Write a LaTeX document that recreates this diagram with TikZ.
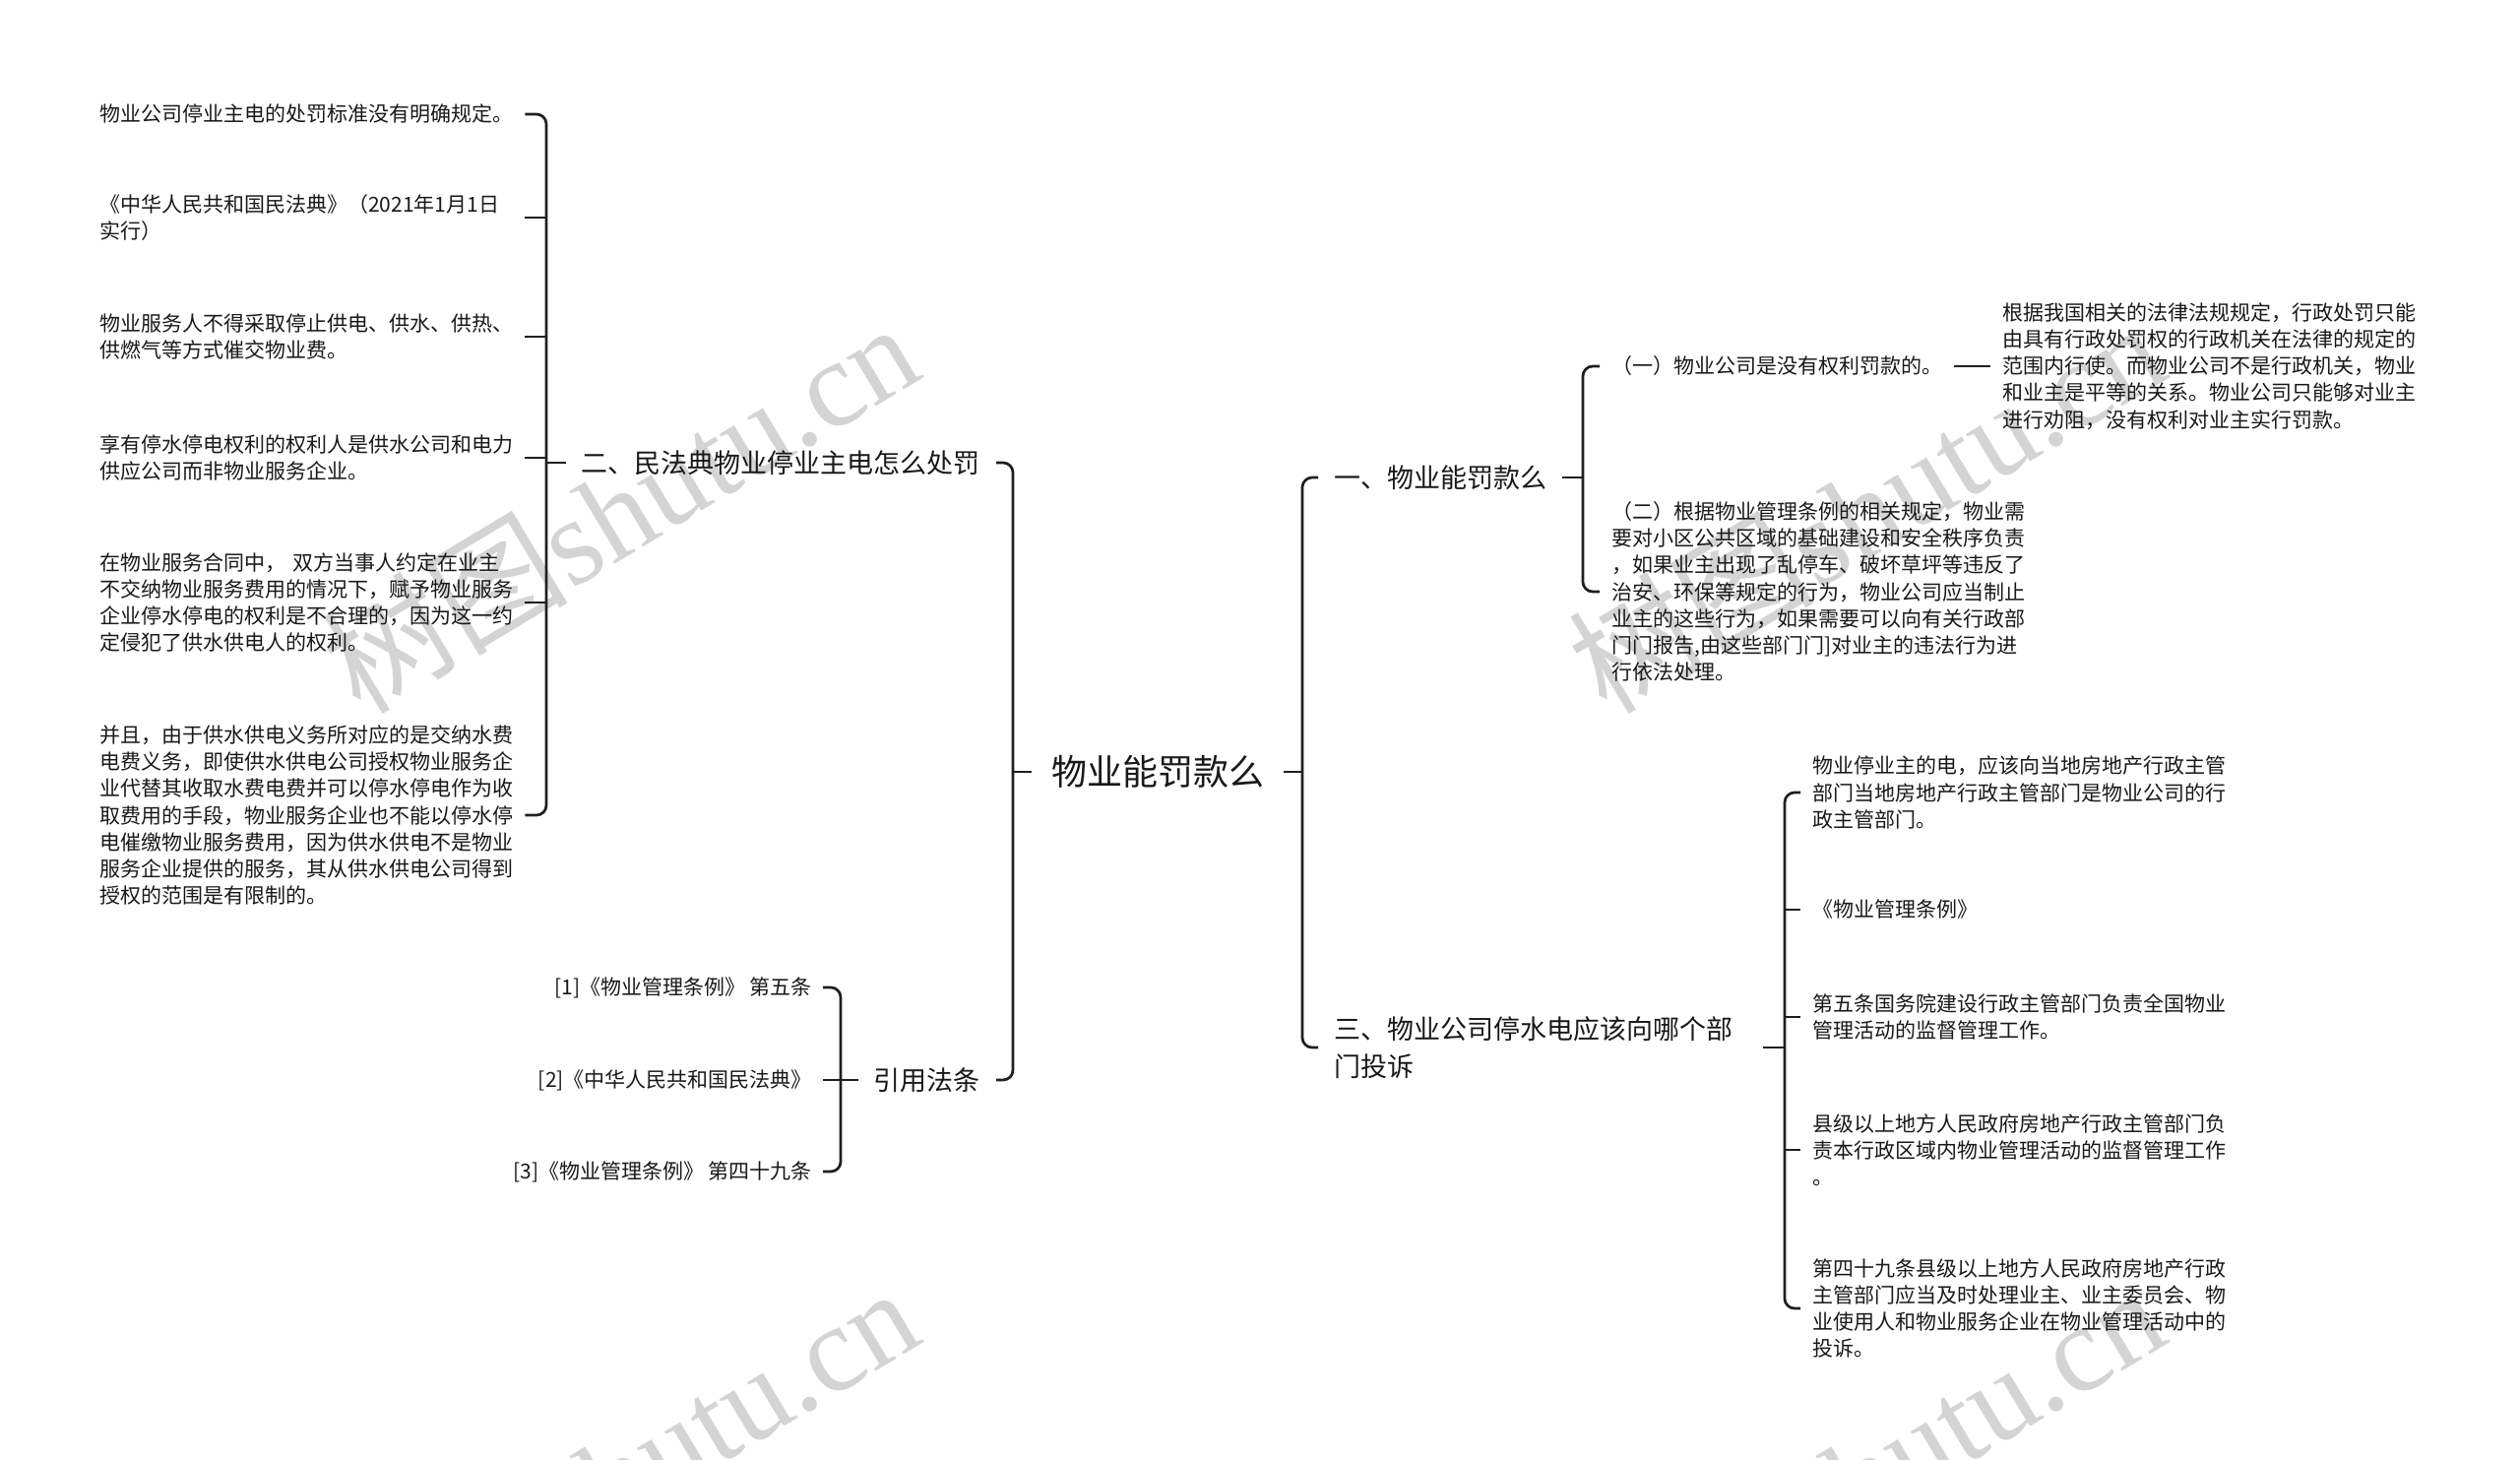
\documentclass[tikz,border=0pt]{standalone}
\usepackage{fontspec}
\setmainfont{Noto Sans CJK SC}
\newfontfamily\wmserif{Liberation Serif}
\newfontfamily\wmcjk{Noto Sans CJK SC}
\begin{document}
\begin{tikzpicture}[x=1pt,y=-1pt,
  conn/.style={draw=black!88, line width=2.7pt},
  connR/.style={conn, rounded corners=10pt},
  rootnode/.style={font=\fontsize{36}{44}\selectfont, text=black!90, inner xsep=19.5pt, inner ysep=4pt},
  lvone/.style={font=\fontsize{27}{37.6}\selectfont, text=black!90, inner xsep=16pt, inner ysep=2pt, align=left},
  leaf/.style={font=\fontsize{21}{27.2}\selectfont, text=black!90, inner xsep=12pt, inner ysep=0pt, align=left},
  leafw/.style={leaf, text width=420pt},
  cite/.style={font=\fontsize{21}{27.2}\selectfont, text=black!90, inner xsep=11pt, inner ysep=0pt, align=right},
  wm/.style={text=black!17, font=\fontsize{125}{130}\selectfont\wmserif, inner sep=0pt, anchor=base west, rotate=31}
]
\fill[white] (0,0) rectangle (2560,1483);
\useasboundingbox (0,0) rectangle (2560,1483);

% watermarks
\begin{scope}
\clip (0,0) rectangle (2560,1483);
\node[wm] (wm1) at (366,728) {{\wmcjk 树图}shutu.cn};
\node[wm] (wm2) at (1632,728) {{\wmcjk 树图}shutu.cn};
\node[wm] (wm3) at (366,1708) {{\wmcjk 树图}shutu.cn};
\node[wm] (wm4) at (1632,1708) {{\wmcjk 树图}shutu.cn};
\end{scope}

% root
\node[rootnode] (root) at (1176,784) {物业能罚款么};
\coordinate (mainL) at (1029,784);
\coordinate (mainR) at (1323,784);

% level one
\node[lvone, anchor=east] (n2) at (1012,470) {二、民法典物业停业主电怎么处罚};
\node[lvone, anchor=east] (nc) at (1012,1097) {引用法条};
\node[lvone, anchor=west] (n1) at (1339,485) {一、物业能罚款么};
\node[lvone, anchor=west, text width=420pt] (n3) at (1339,1064) {三、物业公司停水电应该向哪个部\\门投诉};

\coordinate (sp2) at (555,470);
\coordinate (spC) at (854,1097);
\coordinate (sp1) at (1608,485);
\coordinate (sp3) at (1813,1064);

% left leaves
\node[leafw, anchor=west] (l1) at (89,116) {物业公司停业主电的处罚标准没有明确规定。};
\node[leafw, anchor=west] (l2) at (89,221) {《中华人民共和国民法典》（2021年1月1日\\实行）};
\node[leafw, anchor=west] (l3) at (89,342) {物业服务人不得采取停止供电、供水、供热、\\供燃气等方式催交物业费。};
\node[leafw, anchor=west] (l4) at (89,465) {享有停水停电权利的权利人是供水公司和电力\\供应公司而非物业服务企业。};
\node[leafw, anchor=west] (l5) at (89,612) {在物业服务合同中， 双方当事人约定在业主\\不交纳物业服务费用的情况下，赋予物业服务\\企业停水停电的权利是不合理的，因为这一约\\定侵犯了供水供电人的权利。};
\node[leafw, anchor=west] (l6) at (89,828) {并且，由于供水供电义务所对应的是交纳水费\\电费义务，即使供水供电公司授权物业服务企\\业代替其收取水费电费并可以停水停电作为收\\取费用的手段，物业服务企业也不能以停水停\\电催缴物业服务费用，因为供水供电不是物业\\服务企业提供的服务，其从供水供电公司得到\\授权的范围是有限制的。};

% citations
\node[cite, anchor=east] (c1) at (836,1003) {[1]《物业管理条例》 第五条};
\node[cite, anchor=east] (c2) at (836,1097) {[2]《中华人民共和国民法典》};
\node[cite, anchor=east] (c3) at (836,1190) {[3]《物业管理条例》 第四十九条};

% right part one
\node[leaf, anchor=west] (y1) at (1625,372) {（一）物业公司是没有权利罚款的。};
\node[leafw, anchor=west] (r1) at (2022,372) {根据我国相关的法律法规规定，行政处罚只能\\由具有行政处罚权的行政机关在法律的规定的\\范围内行使。而物业公司不是行政机关，物业\\和业主是平等的关系。物业公司只能够对业主\\进行劝阻，没有权利对业主实行罚款。};
\node[leafw, anchor=west] (y2) at (1625,601) {（二）根据物业管理条例的相关规定，物业需\\要对小区公共区域的基础建设和安全秩序负责\\，如果业主出现了乱停车、破坏草坪等违反了\\治安、环保等规定的行为，物业公司应当制止\\业主的这些行为，如果需要可以向有关行政部\\门门报告,由这些部门门]对业主的违法行为进\\行依法处理。};

% right part three
\node[leafw, anchor=west] (t1) at (1829,805) {物业停业主的电，应该向当地房地产行政主管\\部门当地房地产行政主管部门是物业公司的行\\政主管部门。};
\node[leafw, anchor=west] (t2) at (1829,924) {《物业管理条例》};
\node[leafw, anchor=west] (t3) at (1829,1033) {第五条国务院建设行政主管部门负责全国物业\\管理活动的监督管理工作。};
\node[leafw, anchor=west] (t4) at (1829,1168) {县级以上地方人民政府房地产行政主管部门负\\责本行政区域内物业管理活动的监督管理工作\\。};
\node[leafw, anchor=west] (t5) at (1829,1329) {第四十九条县级以上地方人民政府房地产行政\\主管部门应当及时处理业主、业主委员会、物\\业使用人和物业服务企业在物业管理活动中的\\投诉。};

% connectors: root
\draw[conn] (root.west) -- (mainL);
\draw[conn] (root.east) -- (mainR);
\draw[connR] (mainL) |- (n2.east);
\draw[connR] (mainL) |- (nc.east);
\draw[connR] (mainR) |- (n1.west);
\draw[connR] (mainR) |- (n3.west);

% branch two
\draw[conn] (n2.west) -- (sp2);
\draw[connR] (sp2) |- (l1.east);
\draw[conn] (sp2) |- (l2.east);
\draw[conn] (sp2) |- (l3.east);
\draw[conn] (sp2) |- (l4.east);
\draw[conn] (sp2) |- (l5.east);
\draw[connR] (sp2) |- (l6.east);

% citations
\draw[conn] (nc.west) -- (spC);
\draw[connR] (spC) |- (c1.east);
\draw[conn] (spC) -- (c2.east);
\draw[connR] (spC) |- (c3.east);

% branch one
\draw[conn] (n1.east) -- (sp1);
\draw[connR] (sp1) |- (y1.west);
\draw[connR] (sp1) |- (y2.west);
\draw[conn] (y1.east) -- (r1.west);

% branch three
\draw[conn] (n3.east) -- (sp3);
\draw[connR] (sp3) |- (t1.west);
\draw[conn] (sp3) |- (t2.west);
\draw[conn] (sp3) |- (t3.west);
\draw[conn] (sp3) |- (t4.west);
\draw[connR] (sp3) |- (t5.west);
\end{tikzpicture}
\end{document}
